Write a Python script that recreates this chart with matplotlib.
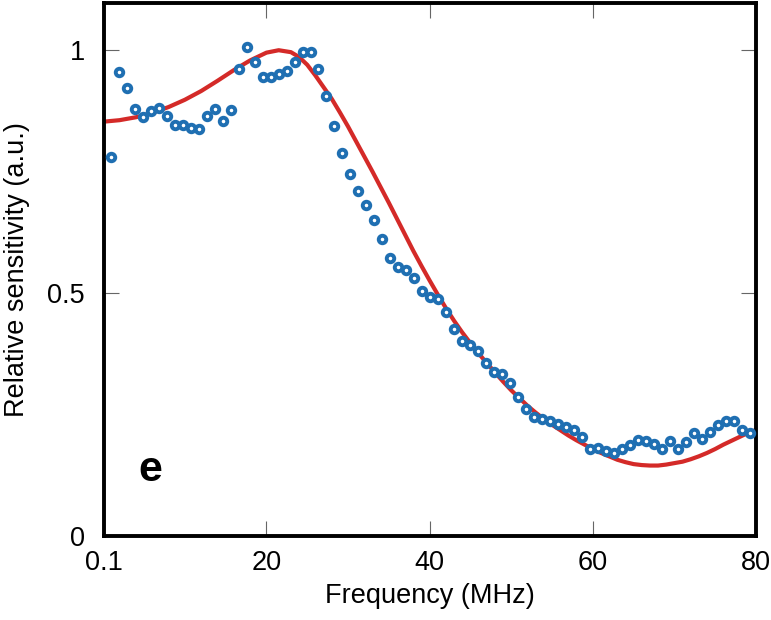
import numpy as np
import matplotlib
matplotlib.use("Agg")
import matplotlib.pyplot as plt

plt.rcParams['font.family'] = ['Liberation Sans', 'DejaVu Sans']

# measured points: regular frequency grid (MHz)
freq = np.linspace(0.9, 79.3, 81)
sens = [0.780, 0.955, 0.923, 0.878, 0.863, 0.874, 0.882, 0.864, 0.846, 0.846,
        0.840, 0.837, 0.865, 0.878, 0.854, 0.876, 0.962, 1.007, 0.976, 0.944,
        0.944, 0.952, 0.957, 0.975, 0.996, 0.996, 0.962, 0.905, 0.844, 0.789,
        0.746, 0.710, 0.681, 0.650, 0.611, 0.572, 0.554, 0.548, 0.531, 0.505,
        0.492, 0.488, 0.462, 0.426, 0.401, 0.393, 0.381, 0.357, 0.337, 0.334,
        0.315, 0.286, 0.262, 0.245, 0.241, 0.236, 0.231, 0.225, 0.219, 0.203,
        0.180, 0.182, 0.175, 0.171, 0.180, 0.187, 0.198, 0.196, 0.189, 0.180,
        0.196, 0.180, 0.194, 0.211, 0.199, 0.214, 0.228, 0.237, 0.237, 0.218,
        0.211]

# fitted model curve
fit_f = [0.1, 2, 4, 6, 8, 10, 12, 14, 16, 18, 20, 21.5, 23, 24, 25, 26, 27, 28,
         29, 30, 31, 32, 33, 34, 35, 36, 37, 38, 39, 40, 41, 42, 43, 44, 45, 46,
         47, 48, 49, 50, 51, 52, 53, 54, 55, 56, 57, 58, 59, 60, 61, 62, 63, 64,
         65, 66, 67, 68, 69, 70, 71, 72, 73, 74, 75, 76, 77, 78, 79, 80]
fit_s = [0.853, 0.856, 0.862, 0.871, 0.883, 0.898, 0.916, 0.937, 0.959, 0.979,
         0.995, 1.000, 0.996, 0.986, 0.970, 0.948, 0.924, 0.900, 0.872, 0.843,
         0.812, 0.781, 0.750, 0.718, 0.686, 0.653, 0.620, 0.587, 0.556, 0.526,
         0.497, 0.469, 0.443, 0.419, 0.397, 0.376, 0.356, 0.337, 0.318, 0.300,
         0.284, 0.268, 0.254, 0.241, 0.229, 0.218, 0.207, 0.197, 0.188, 0.179,
         0.171, 0.164, 0.157, 0.152, 0.148, 0.146, 0.145, 0.145, 0.147, 0.150,
         0.153, 0.158, 0.164, 0.171, 0.179, 0.188, 0.196, 0.204, 0.212, 0.218]

xticks = [0.1, 20, 40, 60, 80]
xtick_labels = ['0.1', '20', '40', '60', '80']
yticks = [0, 0.5, 1]
ytick_labels = ['0', '0.5', '1']

fig = plt.figure(figsize=(7.71, 6.2), dpi=100)
ax = fig.add_axes([0.135, 0.1355, 0.8455, 0.8595])

ax.plot(fit_f, fit_s, color='#d42a28', linewidth=3.0, zorder=2)
ax.plot(freq, sens, linestyle='none', marker='o', markersize=5.4,
        markerfacecolor='white', markeredgecolor='#1f6fb2',
        markeredgewidth=2.8, zorder=3, clip_on=False)

ax.set_xlim(0.1, 80)
ax.set_ylim(0, 1.097)
ax.set_xticks(xticks)
ax.set_xticklabels(xtick_labels)
ax.set_yticks(yticks)
ax.set_yticklabels(ytick_labels)

ax.tick_params(direction='in', length=11, width=0.8, color='#666666',
               top=True, right=True, labelsize=19.5, pad=10)
ax.tick_params(axis='y', pad=14)
for sp in ax.spines.values():
    sp.set_linewidth(2.8)
    sp.set_color('black')

ax.set_xlabel('Frequency (MHz)', fontsize=19.5, labelpad=5)
ax.set_ylabel('Relative sensitivity (a.u.)', fontsize=19.5, labelpad=12)

ax.text(5.8, 0.135, 'e', fontsize=31, fontweight='bold',
        ha='center', va='center')

fig.savefig('out.png', dpi=100)
